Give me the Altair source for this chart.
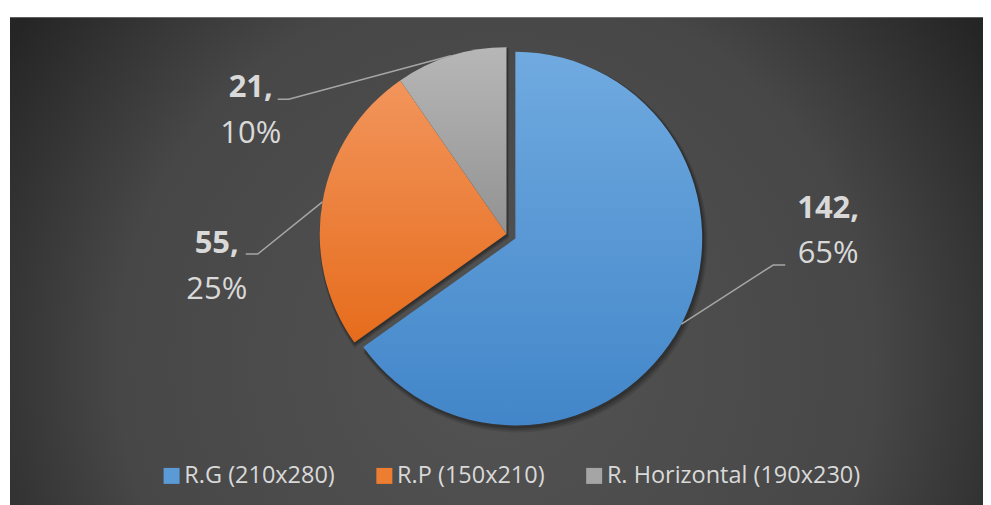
import math
import altair as alt
import pandas as pd

# ---------------- data ----------------
categories = ["R.G (210x280)", "R.P (150x210)", "R. Horizontal (190x230)"]
values = [142, 55, 21]
value_texts = ["142,", "55,", "21,"]
percent_texts = ["65%", "25%", "10%"]

# ---------------- styles ----------------
colors = ["#5b9bd5", "#ed7d31", "#a5a5a5"]
grad_top = ["#70aae0", "#f2955c", "#b7b7b7"]
grad_bot = ["#4286c9", "#e66c1c", "#929292"]
FONT = "Open Sans"
TEXT_COLOR = "#d9d9d9"
LINE_COLOR = "#a6a6a6"

# ---------------- layout (view pixels) ----------------
W, H = 974, 497
CX, CY = 497, 217
R = 187
EXPLODE = [10, 0, 0]
label_x = [819, 207, 241]
label_y1 = [192, 227, 71]
label_y2 = [237, 273, 117]
elbow_x = [764, 248, 279]
elbow_y = [248, 237, 82]
end_x = [776, 236, 268]

total = sum(values)
cum = 0
mids = []
for v in values:
    mids.append((cum + v / 2) / total * 2 * math.pi)
    cum += v

centers = [(CX + e * math.sin(m), CY - e * math.cos(m)) for e, m in zip(EXPLODE, mids)]

df = pd.DataFrame({"cat": categories, "value": values, "order": list(range(len(values)))})

base = (
    alt.Chart(df)
    .transform_joinaggregate(total="sum(value)")
    .transform_window(cum="sum(value)", sort=[alt.SortField("order")], frame=[None, 0])
    .transform_calculate(f1="datum.cum / datum.total", f0="(datum.cum - datum.value) / datum.total")
)
theta_scale = alt.Scale(domain=[0, 1], range=[0, 2 * math.pi])

def grad(top, bot):
    return {
        "gradient": "linear", "x1": 0, "y1": 0, "x2": 0, "y2": 1,
        "stops": [{"offset": 0, "color": top}, {"offset": 1, "color": bot}],
    }

# background
bg = alt.Chart(alt.Data(values=[{}])).mark_rect(
    fill={
        "gradient": "radial", "x1": 0.5, "y1": 0.6, "r1": 0, "x2": 0.5, "y2": 0.6, "r2": 0.6,
        "stops": [
            {"offset": 0, "color": "#535353"},
            {"offset": 0.65, "color": "#474747"},
            {"offset": 1, "color": "#252525"},
        ],
    }
).encode(x=alt.value(0), x2=alt.value(W), y=alt.value(0), y2=alt.value(H))

layers = [bg]

shadow_specs = [(3, 4, 0.10), (2, 3, 0.14), (1, 2, 0.18)]
for i, cat in enumerate(categories):
    cx, cy = centers[i]
    for r_add, off, op in shadow_specs:
        layers.append(
            base.transform_filter(alt.datum.cat == cat)
            .mark_arc(radius=R + r_add, fill="#000000", opacity=op, x=cx + off * 0.6, y=cy + off)
            .encode(theta=alt.Theta("f0:Q", scale=theta_scale), theta2="f1:Q")
        )

for i, cat in enumerate(categories):
    cx, cy = centers[i]
    layers.append(
        base.transform_filter(alt.datum.cat == cat)
        .mark_arc(radius=R, fill=grad(grad_top[i], grad_bot[i]), x=cx, y=cy)
        .encode(theta=alt.Theta("f0:Q", scale=theta_scale), theta2="f1:Q")
    )

# leader lines
rows = []
for i, cat in enumerate(categories):
    cx, cy = centers[i]
    sx = cx + R * math.sin(mids[i])
    sy = cy - R * math.cos(mids[i])
    rows += [
        {"cat": cat, "k": 0, "px": sx, "py": sy},
        {"cat": cat, "k": 1, "px": elbow_x[i], "py": elbow_y[i]},
        {"cat": cat, "k": 2, "px": end_x[i], "py": elbow_y[i]},
    ]
leaders = alt.Chart(pd.DataFrame(rows)).mark_line(color=LINE_COLOR, strokeWidth=1.5).encode(
    x=alt.X("px:Q", scale=None, axis=None),
    y=alt.Y("py:Q", scale=None, axis=None),
    detail="cat:N",
    order="k:Q",
)
layers.append(leaders)

lab = pd.DataFrame({"cat": categories, "vt": value_texts, "pt": percent_texts,
                    "lx": label_x, "ly1": label_y1, "ly2": label_y2})
t1 = alt.Chart(lab).mark_text(font=FONT, fontSize=31, fontWeight="bold", color=TEXT_COLOR,
                              align="center", baseline="middle").encode(
    x=alt.X("lx:Q", scale=None, axis=None), y=alt.Y("ly1:Q", scale=None, axis=None), text="vt:N")
t2 = alt.Chart(lab).mark_text(font=FONT, fontSize=31, color=TEXT_COLOR,
                              align="center", baseline="middle").encode(
    x=alt.X("lx:Q", scale=None, axis=None), y=alt.Y("ly2:Q", scale=None, axis=None), text="pt:N")
layers += [t1, t2]

# legend carrier
leg = alt.Chart(df).mark_square(opacity=0, size=1).encode(
    x=alt.value(0), y=alt.value(0),
    color=alt.Color(
        "cat:N",
        scale=alt.Scale(domain=categories, range=colors),
        legend=alt.Legend(
            orient="none", legendX=150, legendY=447, direction="horizontal", title=None,
            labelFont=FONT, labelFontSize=23.5, labelColor=TEXT_COLOR, symbolType="square",
            symbolSize=256, symbolOpacity=1, symbolStrokeWidth=0, columnPadding=37, labelOffset=1,
            labelLimit=400,
        ),
    ),
)
layers.append(leg)

chart = alt.layer(*layers).properties(
    width=W, height=H,
    padding={"left": 1, "top": 8, "right": 0, "bottom": 0},
    background="white",
).configure_view(stroke=None)

chart.save("out.html", embed_options={"renderer": "svg", "actions": False})
